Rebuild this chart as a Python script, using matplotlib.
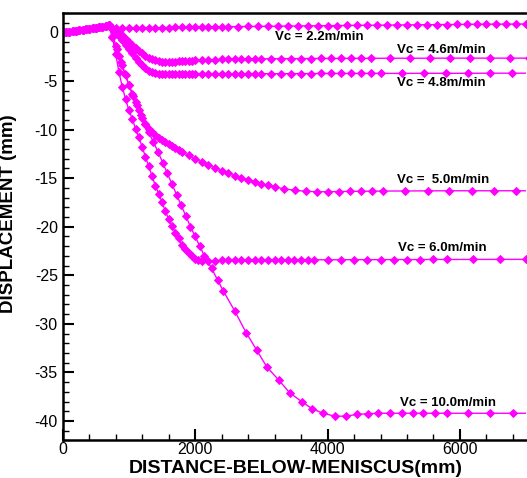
import numpy as np
import matplotlib
matplotlib.use('Agg')
import matplotlib.pyplot as plt
from matplotlib.ticker import MultipleLocator

plt.rcParams['font.family'] = ['Liberation Sans', 'DejaVu Sans']
plt.rcParams['axes.unicode_minus'] = False

# common start segment (all casting speeds)
x_start = [0, 50, 100, 150, 200, 250, 300, 350, 400, 450, 500, 550, 600, 650, 700]
y_start = [0, 0.03, 0.07, 0.12, 0.17, 0.22, 0.27, 0.32, 0.37, 0.42, 0.48, 0.54, 0.6, 0.67, 0.74]

# Vc = 2.2 m/min
x22 = [750, 800, 900, 1000, 1100, 1200, 1300, 1400, 1500, 1600, 1700, 1800, 1900, 2000,
       2100, 2200, 2300, 2400, 2500, 2650, 2800, 2950, 3100, 3250, 3400, 3550, 3700, 3850,
       4000, 4150, 4300, 4450, 4600, 4750, 4900, 5050, 5200, 5350, 5500, 5650, 5800, 5950,
       6100, 6250, 6400, 6550, 6700, 6850, 7000]
y22 = [0.5, 0.45, 0.43, 0.43, 0.44, 0.46, 0.47, 0.48, 0.49, 0.5, 0.51, 0.52, 0.53, 0.54,
       0.55, 0.56, 0.57, 0.58, 0.59, 0.6, 0.61, 0.62, 0.63, 0.64, 0.65, 0.66, 0.67, 0.68,
       0.69, 0.7, 0.71, 0.72, 0.73, 0.74, 0.75, 0.76, 0.77, 0.78, 0.79, 0.8, 0.81, 0.82,
       0.83, 0.84, 0.84, 0.85, 0.85, 0.86, 0.86]

# Vc = 4.6 m/min
x46 = [750, 800, 850, 900, 950, 1000, 1050, 1100, 1150, 1200, 1250, 1300, 1350, 1400,
       1450, 1500, 1550, 1600, 1650, 1700, 1750, 1800, 1850, 1900, 1950, 2000,
       2100, 2200, 2300, 2400, 2500, 2600, 2700, 2800, 2900, 3000,
       3150, 3300, 3450, 3600, 3750, 3900, 4050, 4200, 4350, 4500, 4650,
       4950, 5250, 5550, 5850, 6150, 6450, 6750, 7050]
y46 = [0.45, 0.2, -0.05, -0.3, -0.65, -1.0, -1.3, -1.6, -1.9, -2.15, -2.4, -2.6, -2.75, -2.88,
       -2.96, -3.0, -3.02, -3.02, -3.01, -3.0, -2.98, -2.96, -2.94, -2.92, -2.9, -2.88,
       -2.85, -2.83, -2.81, -2.79, -2.77, -2.76, -2.75, -2.74, -2.73, -2.72,
       -2.71, -2.7, -2.7, -2.69, -2.69, -2.68, -2.68, -2.68, -2.67, -2.67, -2.67,
       -2.66, -2.66, -2.66, -2.65, -2.65, -2.65, -2.65, -2.65]

# Vc = 4.8 m/min
x48 = [750, 800, 850, 900, 950, 1000, 1050, 1100, 1150, 1200, 1250, 1300, 1350, 1400,
       1450, 1500, 1550, 1600, 1650, 1700, 1750, 1800, 1850, 1900, 1950, 2000,
       2100, 2200, 2300, 2400, 2500, 2600, 2700, 2800, 2900, 3000,
       3150, 3300, 3450, 3600, 3750, 3900, 4050, 4200, 4350, 4500, 4650, 4800,
       5130, 5460, 5790, 6120, 6450, 6780, 7110]
y48 = [0.3, 0.0, -0.4, -0.8, -1.25, -1.7, -2.15, -2.6, -3.0, -3.4, -3.7, -3.95, -4.1, -4.2,
       -4.27, -4.3, -4.32, -4.33, -4.33, -4.33, -4.32, -4.32, -4.31, -4.31, -4.3, -4.3,
       -4.29, -4.29, -4.28, -4.28, -4.27, -4.27, -4.26, -4.26, -4.26, -4.25,
       -4.25, -4.25, -4.24, -4.24, -4.24, -4.23, -4.23, -4.23, -4.23, -4.22, -4.22, -4.22,
       -4.22, -4.21, -4.21, -4.21, -4.2, -4.2, -4.2]

# Vc = 5.0 m/min
x50 = [750, 800, 850, 900, 950, 1000, 1050, 1100, 1150, 1200, 1250, 1300, 1350, 1400,
       1450, 1500, 1550, 1600, 1650, 1700, 1750, 1800,
       1900, 2000, 2100, 2200, 2300, 2400, 2500, 2600, 2700, 2800, 2900, 3000, 3100, 3200,
       3340, 3510, 3670, 3840, 4010, 4170, 4340, 4510, 4670, 4840,
       5170, 5510, 5840, 6180, 6510, 6850, 7180]
y50 = [-0.5, -1.4, -2.4, -3.4, -4.4, -5.4, -6.3, -7.2, -8.0, -8.8, -9.4, -9.9, -10.3, -10.6,
       -10.9, -11.1, -11.3, -11.5, -11.7, -11.9, -12.1, -12.3,
       -12.65, -13.0, -13.35, -13.65, -13.95, -14.25, -14.5, -14.75, -15.0, -15.2, -15.4,
       -15.6, -15.75, -15.9,
       -16.1, -16.25, -16.35, -16.4, -16.4, -16.38, -16.36, -16.35, -16.34, -16.33,
       -16.32, -16.31, -16.3, -16.3, -16.3, -16.3, -16.3]

# Vc = 6.0 m/min
x60 = [750, 800, 850, 900, 950, 1000, 1050, 1100, 1150, 1200, 1250, 1300, 1350, 1400,
       1450, 1500, 1550, 1600, 1650, 1700, 1750, 1800, 1850, 1900, 1950, 2000, 2050, 2100,
       2200, 2300, 2400, 2500, 2600, 2700, 2800, 2900, 3000, 3100, 3200, 3300, 3400, 3500,
       3600, 3700, 3800,
       4000, 4200, 4400, 4600, 4800, 5000, 5200, 5400, 5600, 5800,
       6200, 6600, 7000]
y60 = [-0.5, -2.2, -4.1, -5.6, -6.9, -8.0, -8.9, -9.9, -10.8, -11.8, -12.8, -13.8, -14.8,
       -15.8, -16.6, -17.5, -18.4, -19.2, -19.9, -20.6, -21.2, -21.9, -22.3, -22.7, -23.0,
       -23.3, -23.45, -23.5,
       -23.5, -23.48, -23.47, -23.46, -23.45, -23.45, -23.44, -23.44, -23.43, -23.43,
       -23.42, -23.42, -23.42, -23.41, -23.41, -23.41, -23.4,
       -23.4, -23.4, -23.39, -23.39, -23.39, -23.38, -23.38, -23.38, -23.37, -23.37,
       -23.37, -23.36, -23.36]

# Vc = 10.0 m/min
x100 = [760, 820, 880, 940, 1000, 1060, 1120, 1180, 1240, 1300, 1370, 1440, 1510, 1580,
        1650, 1720, 1790, 1860, 1930, 2000, 2070, 2140,
        2250, 2340, 2425, 2600, 2770, 2930, 3080,
        3265, 3430, 3610, 3770, 3935, 4110, 4280, 4450, 4615, 4765, 4940, 5120, 5295,
        5445, 5620, 5800,
        6125, 6450, 6805, 7150]
y100 = [-0.4, -1.7, -3.0, -4.3, -5.4, -6.5, -7.5, -8.5, -9.4, -10.3, -11.3, -12.3, -13.4,
        -14.5, -15.6, -16.7, -17.8, -18.9, -20.0, -21.0, -22.0, -23.0,
        -24.3, -25.5, -26.6, -28.7, -30.9, -32.7, -34.4,
        -35.8, -37.1, -38.0, -38.75, -39.2, -39.5, -39.5, -39.3, -39.25, -39.2, -39.2,
        -39.2, -39.2, -39.2, -39.2, -39.2,
        -39.2, -39.2, -39.2, -39.2]

series = [(x22, y22), (x46, y46), (x48, y48), (x50, y50), (x60, y60), (x100, y100)]

labels = ['Vc = 2.2m/min', 'Vc = 4.6m/min', 'Vc = 4.8m/min',
          'Vc =  5.0m/min', 'Vc = 6.0m/min', 'Vc = 10.0m/min']
label_x = [3200, 5050, 5050, 5050, 5070, 5100]
label_y = [-0.45, -1.8, -5.2, -15.2, -22.2, -38.1]

fig = plt.figure(figsize=(5.27, 4.78), dpi=100)
ax = fig.add_axes([0.119, 0.0785, 0.8794, 0.8944])

for xs, ys in series:
    ax.plot(x_start + xs, y_start + ys, color='#FF00FF', linewidth=1.0,
            marker='D', markersize=3.6, markeredgewidth=0.7)

for t, lx, ly in zip(labels, label_x, label_y):
    ax.text(lx, ly, t, fontsize=9.5, fontweight='bold', ha='left', va='center')

ax.set_xlim(0, 7000)
ax.set_ylim(-42, 2)
ax.xaxis.set_major_locator(MultipleLocator(2000))
ax.xaxis.set_minor_locator(MultipleLocator(400))
ax.yaxis.set_major_locator(MultipleLocator(5))
ax.yaxis.set_minor_locator(MultipleLocator(1))
ax.tick_params(which='both', direction='in', top=False, right=False, labelsize=11.5)
ax.tick_params(axis='x', pad=1)
ax.tick_params(which='major', length=8, width=1.5)
ax.tick_params(which='minor', length=4, width=1)

ax.spines['right'].set_visible(False)
for s in ['left', 'bottom', 'top']:
    ax.spines[s].set_linewidth(1.8)

ax.set_xlabel('DISTANCE-BELOW-MENISCUS(mm)', fontsize=14, fontweight='bold')
ax.set_ylabel('DISPLACEMENT (mm)', fontsize=13.5, fontweight='bold')
ax.xaxis.set_label_coords(0.503, -0.046)
ax.yaxis.set_label_coords(-0.098, 0.531)

plt.savefig('out.png', dpi=100)
